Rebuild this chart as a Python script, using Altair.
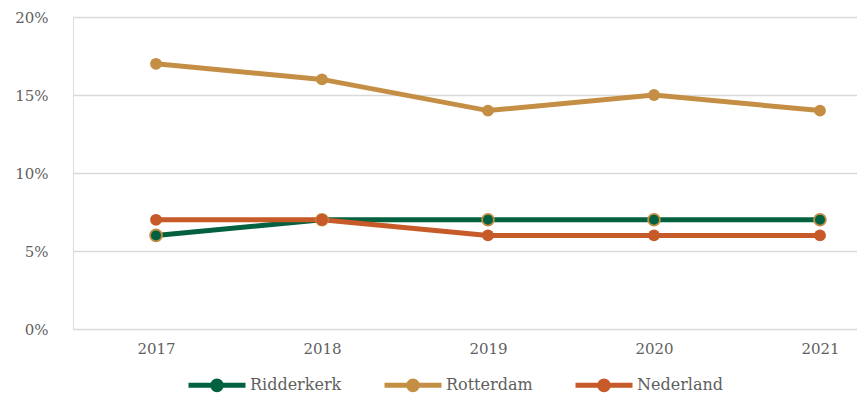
import altair as alt
import pandas as pd

years = [2017, 2018, 2019, 2020, 2021]
series_names = ["Ridderkerk", "Rotterdam", "Nederland"]
ridderkerk = [0.06, 0.07, 0.07, 0.07, 0.07]
rotterdam = [0.17, 0.16, 0.14, 0.15, 0.14]
nederland = [0.07, 0.07, 0.06, 0.06, 0.06]
colors = ["#04613F", "#C48F45", "#C65A28"]
y_ticks = [0, 0.05, 0.10, 0.15, 0.20]

rows = []
for name, vals in zip(series_names, [ridderkerk, rotterdam, nederland]):
    for yr, v in zip(years, vals):
        rows.append({"year": yr, "value": v, "series": name})
df = pd.DataFrame(rows)

FONT = "DejaVu Serif"
LABEL_COLOR = "#5f5f5f"

color_scale = alt.Scale(domain=series_names, range=colors)

x_enc = alt.X(
    "year:Q",
    scale=alt.Scale(domain=[2016.5, 2021.223], nice=False, zero=False),
    axis=alt.Axis(values=years, format="d", grid=False, domain=False, ticks=False,
                  labelPadding=12, labelFont=FONT, labelFontSize=15,
                  labelColor=LABEL_COLOR, title=None, labelFlush=False),
)
y_enc = alt.Y(
    "value:Q",
    scale=alt.Scale(domain=[0, 0.2], nice=False),
    axis=alt.Axis(values=y_ticks, format=".0%", grid=True, gridColor="#D9D9D9",
                  gridWidth=1.5, domain=False, ticks=False, labelPadding=25,
                  labelFont=FONT, labelFontSize=15, labelColor=LABEL_COLOR, title=None),
)

legend_path = ("M-1,0H1 M-0.15,0A0.15,0.15 0 1,0 0.15,0A0.15,0.15 0 1,0 -0.15,0Z")

legend = alt.Legend(
    title=None, orient="none", direction="horizontal",
    legendX=113, legendY=337,
    symbolType=legend_path, symbolSize=3249, symbolStrokeWidth=5,
    symbolOpacity=1,
    labelFont=FONT, labelFontSize=16, labelColor=LABEL_COLOR,
    labelOffset=2, columnPadding=32,
)

lines = alt.Chart(df).mark_line(strokeWidth=5, strokeCap="round").encode(
    x=x_enc,
    y=y_enc,
    color=alt.Color("series:N", scale=color_scale, sort=series_names, legend=legend),
    order=alt.Order("year:Q"),
)

points = alt.Chart(df).mark_circle(size=140, opacity=1, stroke="#C48F45").encode(
    x="year:Q",
    y="value:Q",
    color=alt.Color("series:N", scale=color_scale, sort=series_names, legend=legend),
    strokeWidth=alt.condition(alt.datum.series == "Ridderkerk", alt.value(1.8), alt.value(0)),
)

chart = alt.layer(lines, points).properties(
    width=784, height=312,
    autosize=alt.AutoSizeParams(type="none"),
    padding={"left": 65, "top": 9, "right": 0, "bottom": 64},
).configure_view(stroke=None).configure(background="white")

chart.save("out.html", embed_options={"renderer": "svg", "actions": False})
